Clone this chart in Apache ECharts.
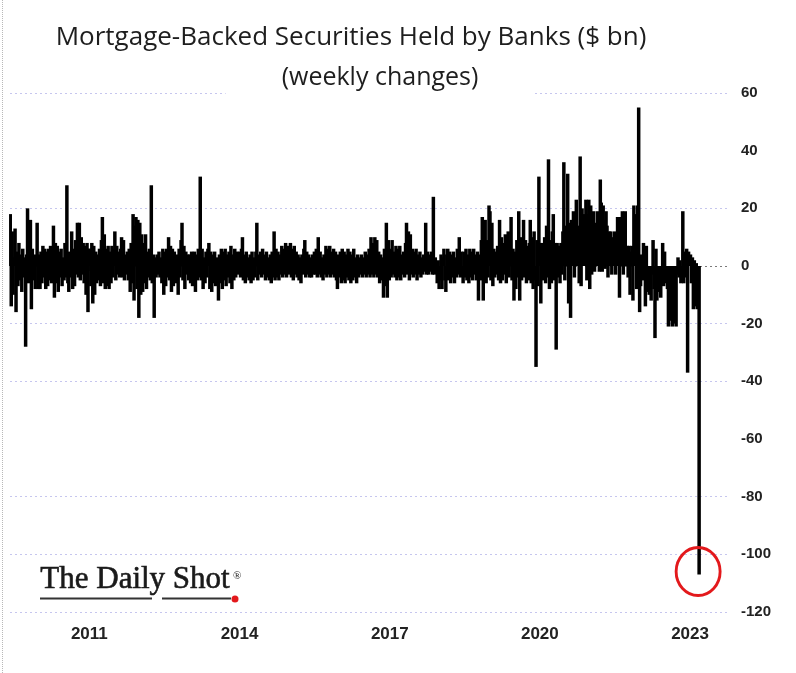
<!DOCTYPE html>
<html>
<head>
<meta charset="utf-8">
<script src="https://cdn.jsdelivr.net/npm/echarts@6/dist/echarts.min.js"></script>
<style>
html,body{margin:0;padding:0;background:#fff;}
#wrap{position:relative;width:796px;height:673px;}
#chart{width:796px;height:673px;}
#edge{position:absolute;left:2px;top:0;height:673px;border-left:1px dotted #b8b8b8;}
</style>
</head>
<body>
<div id="wrap"><div id="chart"></div><div id="edge"></div></div>
<script>
// Weekly changes in MBS held by banks ($ bn), first week: 2009-06-03
const firstWeek = '2009-06-03';
const w2009 = [18,-14,12,-10,3,13,-16,5,-7,8,-5,4,-9,6,-4,3,-28,4,20,-6,5,16,-15,6,-5,4,-8,3,15,-8,4];
const w2010 = [-8,5,-6,7,-4,6,-8,5,-7,6,-5,7,-6,4,14,-11,8,-6,7,-9,5,-4,6,-7,3,-5,8,-4,28,-6,-9,5,-4,12,-8,6,-7,9,-3,15,-4,15,-5,10,-3,8,-6,7,-10,8,-16,6];
const w2011 = [6,-7,8,-13,7,-10,5,-6,4,-5,6,-7,9,17,-6,11,-8,6,-7,7,-8,5,-6,7,-4,6,12,-5,7,-3,5,-4,6,10,-4,9,-5,4,-3,5,-5,6,-9,8,-6,18,-12,14,17,-8,16,-18];
const w2012 = [15,-10,11,-9,8,-6,11,-8,5,-4,6,-5,28,-6,4,-18,3,-4,4,-3,5,-4,3,-6,6,-10,5,-7,6,-4,10,-5,7,-9,6,-7,5,-6,4,-5,-10,6,-4,9,15,-5,7,-8,5,-3,4,-5];
const w2013 = [4,-6,5,-7,3,5,-9,4,-5,6,-4,31,-5,6,-8,3,-6,5,-4,6,8,-8,5,-9,4,-6,5,-7,3,-5,-12,4,-6,6,-8,5,-5,6,-7,4,-4,5,-6,7,-8,4,-5,6,-4,5,-3,4];
const w2014 = [5,-4,6,10,-5,4,-6,5,-4,3,-5,4,-6,5,-5,3,-4,5,15,-5,4,-3,5,-4,6,-3,4,-5,5,-4,3,-5,4,-6,5,-4,12,-5,6,-4,5,-5,4,-3,7,-4,6,-3,8,-4,7,-3,6];
const w2015 = [8,-4,6,-5,7,-3,5,-4,4,-5,3,-6,4,-3,6,9,-4,5,-3,4,-4,3,-4,4,-3,5,-3,6,-4,10,-3,5,-4,3,-5,4,-3,7,-4,6,-3,7,-4,5,-3,6,-4,5,-5,-8,4,-4];
const w2016 = [5,-6,6,-5,5,-6,4,-4,6,-5,5,-6,4,-5,6,-4,3,-6,4,-4,3,-3,4,-4,3,-3,5,-4,4,-3,6,-4,10,-3,8,-4,10,-3,9,-4,5,-6,4,-5,3,-11,6,-7,15,-11,9,-5];
const w2017 = [6,-4,9,-3,5,-4,7,-5,6,-4,7,-5,4,-3,5,-4,8,15,-3,12,-5,11,-3,6,-4,5,-3,6,-5,4,-3,5,-4,3,-3,4,-2,15,-3,5,-3,4,-2,5,-3,24,-3,3,-2,-6,2,-8];
const w2018 = [-5,4,-8,3,6,-5,-9,4,6,-5,5,-6,4,-4,5,-6,3,-4,6,-3,10,-4,5,-3,-6,5,-4,6,-5,4,-6,6,-4,5,-5,6,-3,4,-5,5,-12,4,-5,9,17,-12,8,16,-6,9,-4,21];
const w2019 = [19,-5,15,-7,6,-4,5,-3,7,-5,16,-6,10,-5,8,-3,11,-6,7,12,-4,9,17,-5,6,-12,5,-8,9,-4,19,-12,10,-5,7,16,-4,9,-6,7,-5,8,16,-6,10,-8,12,-5,-35,9,-7,31];
const w2020 = [8,-13,6,8,-5,10,-6,14,-4,37,-8,9,-6,12,18,-5,8,-29,8,-4,7,-6,8,-3,12,36,-5,14,10,32,-13,15,-18,16,12,19,-4,15,23,10,14,-6,38,-7,20,14,18,10,23,-5,18,23,-8];
const w2021 = [21,-3,18,19,-2,15,12,19,8,-2,30,22,-2,21,16,-1,19,14,-4,12,8,12,-3,10,6,12,-3,9,17,14,-11,17,12,19,-3,16,19,6,7,-4,7,-10,5,7,-12,21,15,18,-8,21,55,-16];
const w2022 = [-7,4,-5,8,-3,-14,7,-9,-6,-10,-4,-12,-3,9,-8,-25,6,-12,-5,-9,-4,-11,-3,8,-7,5,-6,-3,-8,-21,-4,-19,-6,-21,-8,-20,-5,-21,-3,3,-4,2,-6,-3,19,-6,5,-4,6,-37,5,3];
const w2023 = [4,-6,3,-15,2,-14,1,-15,-8,-107];

const yearTicks = ['2011','2014','2017','2020','2023'];
const yTicks = [-120,-100,-80,-60,-40,-20,0,20,40,60];

const weekly = [].concat(w2009,w2010,w2011,w2012,w2013,w2014,w2015,w2016,w2017,w2018,w2019,w2020,w2021,w2022,w2023);
const t0 = Date.parse(firstWeek + 'T00:00:00Z');
const weekMs = 7*24*3600*1000;
const seriesData = weekly.map((v,i)=>[t0 + i*weekMs, v]);
const tickStamps = yearTicks.map(y=>Date.parse(y+'-01-01T00:00:00Z'));

const dot = '#c6c6ee';
const gridColors = yTicks.map(v => v === 0 ? '#7a7a7a' : (v === 40 || v === -60 ? 'rgba(0,0,0,0)' : dot));

const chart = echarts.init(document.getElementById('chart'), null, {renderer:'canvas'});
chart.setOption({
  animation:false,
  backgroundColor:'#ffffff',
  title:[
    {text:'Mortgage-Backed Securities Held by Banks ($ bn)', left:351, top:25, textAlign:'center', padding:0,
     textStyle:{fontFamily:'Open Sans', fontSize:26, fontWeight:'normal', color:'#1e1e1e'}},
    {text:'(weekly changes)', left:324, top:61, textAlign:'center', padding:[4,56,12,56], backgroundColor:'#ffffff',
     textStyle:{fontFamily:'Open Sans', fontSize:25, fontWeight:'normal', color:'#1e1e1e'}}
  ],
  grid:{left:10, right:67, top:93, bottom:61, containLabel:false},
  xAxis:{
    type:'value',
    min:Date.parse('2009-06-01T00:00:00Z'),
    max:Date.parse('2023-10-12T00:00:00Z'),
    axisLine:{show:false},
    axisTick:{show:true, customValues:tickStamps, length:5, lineStyle:{color:'#555', width:1}},
    axisLabel:{customValues:tickStamps, margin:14, fontFamily:'Liberation Sans', fontWeight:'bold', fontSize:17, color:'#222',
      formatter:v=>String(new Date(v).getUTCFullYear())},
    splitLine:{show:false}
  },
  yAxis:{
    type:'value', position:'right', min:-120, max:60, interval:20,
    axisLine:{show:false}, axisTick:{show:false},
    axisLabel:{margin:12, fontFamily:'Liberation Sans', fontWeight:'bold', fontSize:15, color:'#222'},
    splitLine:{show:true, lineStyle:{color:gridColors, type:[2,3], width:1}}
  },
  series:[{
    type:'bar',
    data:seriesData,
    barWidth:3.5,
    itemStyle:{color:'#000'},
    emphasis:{disabled:true},
    markPoint:{
      symbol:'circle', symbolSize:[44,48], symbolOffset:[-1,-3],
      label:{show:false},
      itemStyle:{color:'rgba(0,0,0,0)', borderColor:'#e3191c', borderWidth:3},
      data:[{type:'min'}]
    }
  }],
  graphic:[
    {type:'text', left:40, top:564, style:{text:'The Daily Shot', font:'31px "Liberation Serif"', fill:'#1a1a1a', stroke:'#1a1a1a', lineWidth:0.6}},
    {type:'text', left:233, top:571, style:{text:'®', font:'11px "Liberation Serif"', fill:'#1a1a1a'}},
    {type:'line', shape:{x1:40,y1:598.5,x2:152,y2:598.5}, style:{stroke:'#333', lineWidth:2}},
    {type:'line', shape:{x1:162,y1:598.5,x2:231,y2:598.5}, style:{stroke:'#333', lineWidth:2}},
    {type:'circle', shape:{cx:235, cy:599, r:3.5}, style:{fill:'#e3191c'}}
  ]
});
</script>
</body>
</html>
